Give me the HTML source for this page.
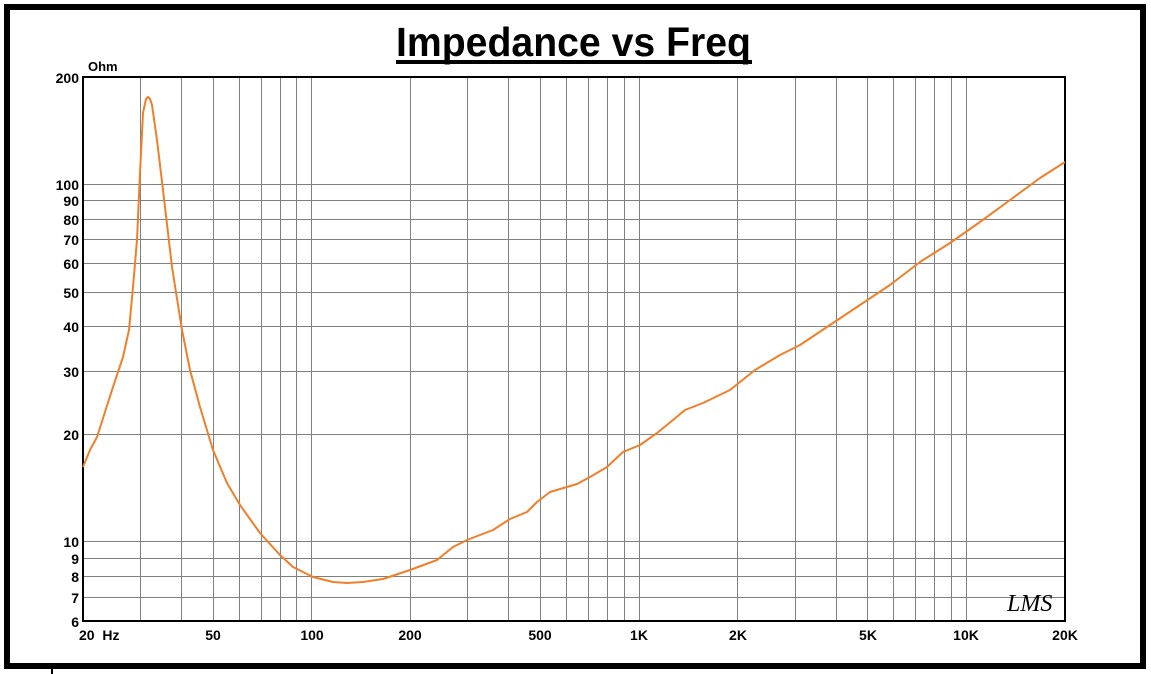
<!DOCTYPE html>
<html><head><meta charset="utf-8"><style>html,body{margin:0;padding:0;background:#fff}svg{display:block}</style></head>
<body>
<svg width="1151" height="674" xmlns="http://www.w3.org/2000/svg" font-family="Liberation Sans, Arial, sans-serif">
<rect width="1151" height="674" fill="#fff"/>
<rect x="7" y="7" width="1136" height="659" fill="none" stroke="#000" stroke-width="6"/>
<line x1="52" y1="666" x2="52" y2="674" stroke="#000" stroke-width="2"/>
<text x="396" y="56" font-size="41" font-weight="bold" textLength="355" lengthAdjust="spacingAndGlyphs">Impedance vs Freq</text>
<rect x="396" y="60" width="356" height="4" fill="#000"/>
<g stroke="#808080" stroke-width="1">
<line x1="140.5" y1="77" x2="140.5" y2="621"/>
<line x1="181.5" y1="77" x2="181.5" y2="621"/>
<line x1="213.5" y1="77" x2="213.5" y2="621"/>
<line x1="239.5" y1="77" x2="239.5" y2="621"/>
<line x1="261.5" y1="77" x2="261.5" y2="621"/>
<line x1="280.5" y1="77" x2="280.5" y2="621"/>
<line x1="296.5" y1="77" x2="296.5" y2="621"/>
<line x1="311.5" y1="77" x2="311.5" y2="621"/>
<line x1="410.5" y1="77" x2="410.5" y2="621"/>
<line x1="467.5" y1="77" x2="467.5" y2="621"/>
<line x1="508.5" y1="77" x2="508.5" y2="621"/>
<line x1="540.5" y1="77" x2="540.5" y2="621"/>
<line x1="566.5" y1="77" x2="566.5" y2="621"/>
<line x1="588.5" y1="77" x2="588.5" y2="621"/>
<line x1="607.5" y1="77" x2="607.5" y2="621"/>
<line x1="624.5" y1="77" x2="624.5" y2="621"/>
<line x1="639.5" y1="77" x2="639.5" y2="621"/>
<line x1="737.5" y1="77" x2="737.5" y2="621"/>
<line x1="795.5" y1="77" x2="795.5" y2="621"/>
<line x1="836.5" y1="77" x2="836.5" y2="621"/>
<line x1="867.5" y1="77" x2="867.5" y2="621"/>
<line x1="893.5" y1="77" x2="893.5" y2="621"/>
<line x1="915.5" y1="77" x2="915.5" y2="621"/>
<line x1="934.5" y1="77" x2="934.5" y2="621"/>
<line x1="951.5" y1="77" x2="951.5" y2="621"/>
<line x1="966.5" y1="77" x2="966.5" y2="621"/>
<line x1="83" y1="184.5" x2="1065" y2="184.5"/>
<line x1="83" y1="200.5" x2="1065" y2="200.5"/>
<line x1="83" y1="219.5" x2="1065" y2="219.5"/>
<line x1="83" y1="239.5" x2="1065" y2="239.5"/>
<line x1="83" y1="263.5" x2="1065" y2="263.5"/>
<line x1="83" y1="292.5" x2="1065" y2="292.5"/>
<line x1="83" y1="326.5" x2="1065" y2="326.5"/>
<line x1="83" y1="371.5" x2="1065" y2="371.5"/>
<line x1="83" y1="434.5" x2="1065" y2="434.5"/>
<line x1="83" y1="541.5" x2="1065" y2="541.5"/>
<line x1="83" y1="558.5" x2="1065" y2="558.5"/>
<line x1="83" y1="576.5" x2="1065" y2="576.5"/>
<line x1="83" y1="597.5" x2="1065" y2="597.5"/>
</g>
<rect x="83" y="77" width="982" height="544" fill="none" stroke="#000" stroke-width="2"/>
<g font-size="14" font-weight="bold" fill="#000" text-anchor="end">
<text x="79" y="83">200</text>
<text x="79" y="190">100</text>
<text x="79" y="206">90</text>
<text x="79" y="225">80</text>
<text x="79" y="245">70</text>
<text x="79" y="269">60</text>
<text x="79" y="298">50</text>
<text x="79" y="332">40</text>
<text x="79" y="377">30</text>
<text x="79" y="440">20</text>
<text x="79" y="547">10</text>
<text x="79" y="564">9</text>
<text x="79" y="582">8</text>
<text x="79" y="603">7</text>
<text x="79" y="627">6</text>
</g>
<g font-size="14" font-weight="bold" fill="#000" text-anchor="middle">
<text x="79" y="640" text-anchor="start" xml:space="preserve">20  Hz</text>
<text x="213" y="640">50</text>
<text x="312" y="640">100</text>
<text x="410" y="640">200</text>
<text x="540" y="640">500</text>
<text x="639" y="640">1K</text>
<text x="738" y="640">2K</text>
<text x="868" y="640">5K</text>
<text x="966" y="640">10K</text>
<text x="1065" y="640">20K</text>
</g>
<text x="88" y="71" font-size="13" font-weight="bold">Ohm</text>
<polyline fill="none" stroke="#f07f2a" stroke-width="2" stroke-linejoin="round" points="83,467 90,450 97,437 105,412 113,387 123,357 129,330 133,287 137,240 140,173 143,113 146,99 148,97 150,99 152,105 157,140 163,190 172,267 182,330 190,370 200,407 213,450 227,483 240,505 260,533 280,555 293,567 313,577 333,582 347,583 363,582 383,579 410,570 437,560 453,547 467,540 493,530 510,519 527,512 537,502 550,492 577,484 590,477 607,467 623,452 640,445 657,433 673,420 685,410 703,403 730,390 755,370 780,355 800,345 830,325 860,305 890,285 920,262 950,243 980,222 1010,200 1040,178 1065,162"/>
<text x="1007" y="611" font-size="24" font-style="italic" font-family="Liberation Serif, serif">LMS</text>
</svg>
</body></html>
